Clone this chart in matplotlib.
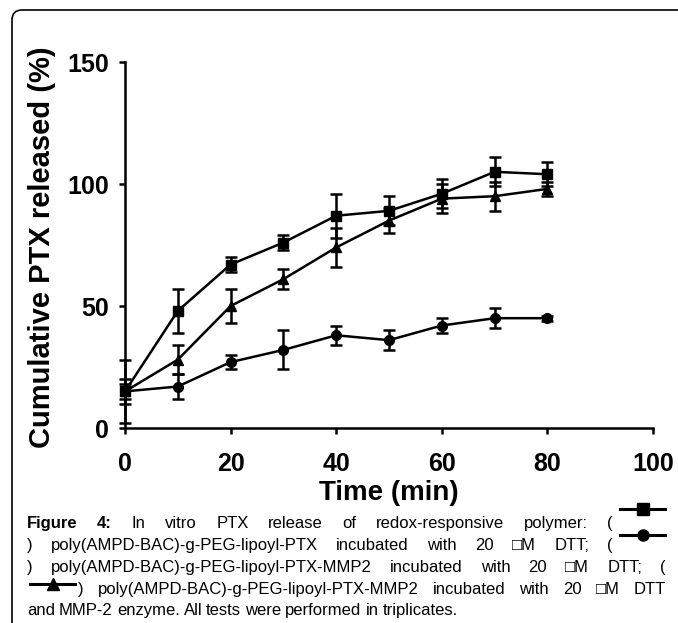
import numpy as np
import matplotlib.pyplot as plt
from matplotlib.path import Path
from matplotlib.patches import PathPatch
from matplotlib.lines import Line2D

# release data
time = [0, 10, 20, 30, 40, 50, 60, 70, 80]
ptx_dtt = [15, 48, 67, 76, 87, 89, 96, 105, 104]
ptx_dtt_err = [5, 9, 3, 3, 9, 6, 6, 6, 5]
mmp2_dtt = [15, 17, 27, 32, 38, 36, 42, 45, 45]
mmp2_dtt_err = [13, 5, 3, 8, 4, 4, 3, 4, 1]
mmp2_enz = [15, 28, 50, 61, 74, 85, 94, 95, 98]
mmp2_enz_err = [3, 6, 7, 4, 8, 5, 6, 6, 3]

xticks = [0, 20, 40, 60, 80, 100]
yticks = [0, 50, 100, 150]

W, H = 678, 623
fig = plt.figure(figsize=(W / 100, H / 100), dpi=100)
plt.rcParams['font.family'] = ['Liberation Sans', 'DejaVu Sans']

def fx(px):
    return px / W

def fy(py):
    return 1 - py / H

ax = fig.add_axes([fx(125), fy(428), fx(653) - fx(125), (428 - 62) / H])

style = dict(color='black', lw=1.8, ms=7, capsize=4.5, capthick=1.8,
             elinewidth=1.8, clip_on=False)
for y, e, m in [(ptx_dtt, ptx_dtt_err, 's'), (mmp2_dtt, mmp2_dtt_err, 'o'),
                (mmp2_enz, mmp2_enz_err, '^')]:
    eb = ax.errorbar(time, y, yerr=e, marker=m, **style)
    for art in eb.lines[1] + eb.lines[2]:
        art.set_clip_on(False)

ax.set_xlim(0, 100)
ax.set_ylim(0, 150)
ax.set_xticks(xticks)
ax.set_yticks(yticks)
for s in ['top', 'right']:
    ax.spines[s].set_visible(False)
for s in ['left', 'bottom']:
    ax.spines[s].set_linewidth(1.8)
ax.tick_params(width=1.8, length=4.5, labelsize=18)
ax.tick_params(axis='x', pad=13)
ax.tick_params(axis='y', pad=7)
for lab in ax.get_xticklabels() + ax.get_yticklabels():
    lab.set_fontweight('bold')

fig.text(fx(389), fy(493), 'Time (min)', fontsize=20, fontweight='bold',
         ha='center', va='center')
fig.text(fx(42), fy(247), 'Cumulative PTX released (%)', fontsize=21,
         fontweight='bold', rotation=90, ha='center', va='center')

# rounded frame at top-left
verts = [(fx(12), fy(640)), (fx(12), fy(20)), (fx(12), fy(10)), (fx(22), fy(10)),
         (fx(700), fy(10))]
codes = [Path.MOVETO, Path.LINETO, Path.CURVE3, Path.CURVE3, Path.LINETO]
fig.patches.append(PathPatch(Path(verts, codes), fill=False, lw=1.2,
                             edgecolor='black', transform=fig.transFigure))

# caption, justified word by word
renderer = fig.canvas.get_renderer()
fs = 12
cap_font = ['Liberation Sans Narrow', 'Liberation Sans', 'DejaVu Sans']

def put_line(words, x0, x1, base, justify=True):
    texts = []
    widths = []
    for w, bold in words:
        t = fig.text(fx(x0), fy(base), w, fontsize=fs, va='baseline', family=cap_font,
                     fontweight='bold' if bold else 'normal')
        texts.append(t)
        widths.append(t.get_window_extent(renderer).width)
    if justify and len(words) > 1:
        gap = (x1 - x0 - sum(widths)) / (len(words) - 1)
    else:
        gap = 4
    x = x0
    for t, w in zip(texts, widths):
        t.set_x(fx(x))
        x += w + gap

def words_of(s, bold_n=0):
    ws = s.split(' ')
    return [(w, i < bold_n) for i, w in enumerate(ws)]

mu = '\u25a1'
put_line(words_of('Figure 4: In vitro PTX release of redox-responsive polymer: (', 2),
         27, 613, 528)
put_line(words_of(') poly(AMPD-BAC)-g-PEG-lipoyl-PTX incubated with 20 ' + mu + 'M DTT; ('),
         27, 613, 550)
put_line(words_of(') poly(AMPD-BAC)-g-PEG-lipoyl-PTX-MMP2 incubated with 20 ' + mu + 'M DTT; ('),
         27, 666, 572)
put_line(words_of(') poly(AMPD-BAC)-g-PEG-lipoyl-PTX-MMP2 incubated with 20 ' + mu + 'M DTT'),
         78, 666, 594)
put_line(words_of('and MMP-2 enzyme. All tests were performed in triplicates.'),
         27, 666, 615, justify=False)

# legend symbols inside the caption
for (xa, xb, yc, m) in [(620, 665, 509, 's'), (620, 665, 535, 'o'), (30, 75, 584, '^')]:
    fig.lines.append(Line2D([fx(xa), fx(xb)], [fy(yc), fy(yc)], color='black', lw=2.2,
                            transform=fig.transFigure))
    fig.lines.append(Line2D([fx((xa + xb) / 2)], [fy(yc)], color='black', marker=m,
                            ms=8, transform=fig.transFigure))

fig.savefig('out.png', dpi=100)
